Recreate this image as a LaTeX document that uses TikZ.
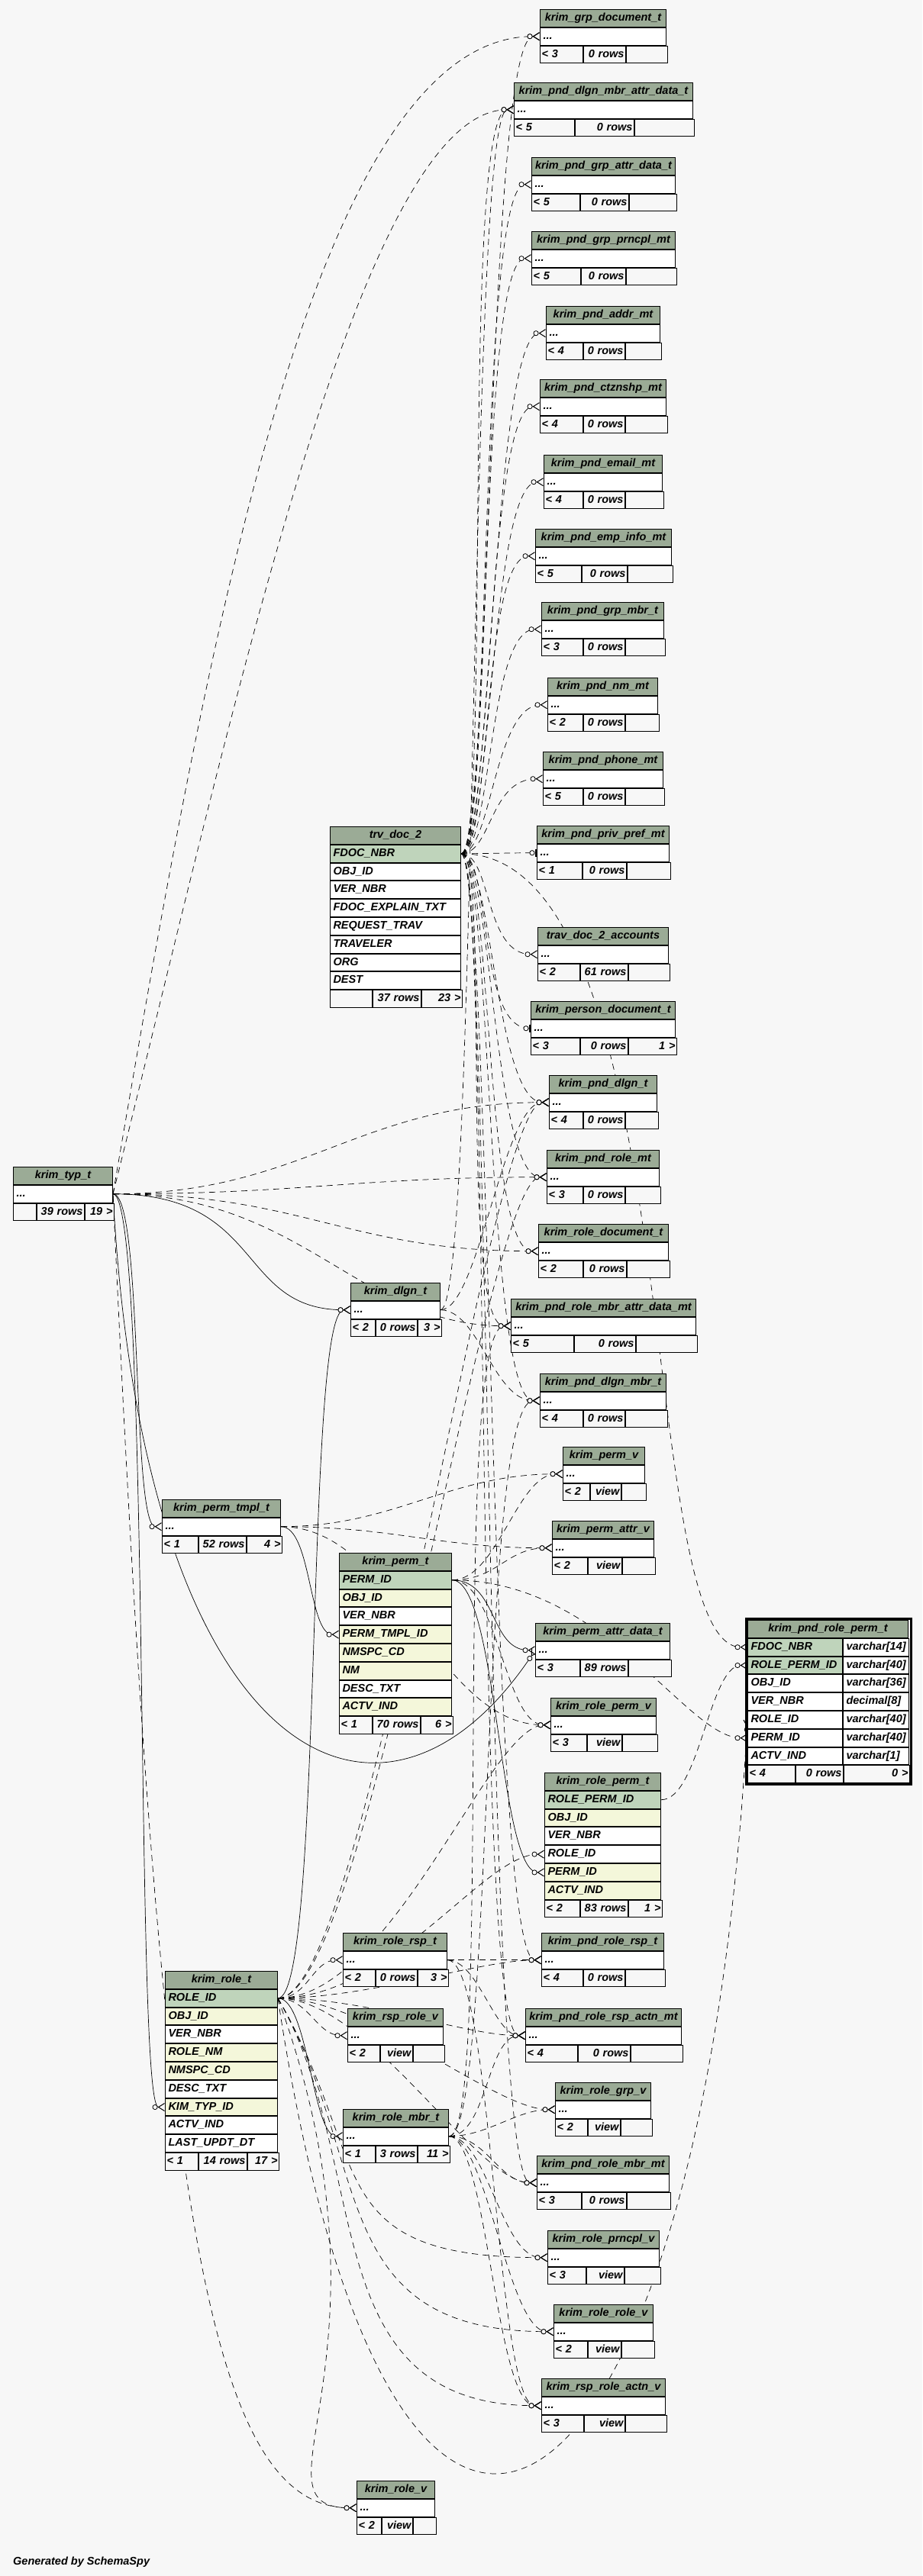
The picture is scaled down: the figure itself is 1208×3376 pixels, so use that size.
\documentclass[tikz,border=0pt]{standalone}
\usepackage{fontspec}
\setmainfont{Liberation Sans}
\usepackage{tikz}
\usetikzlibrary{arrows.meta,positioning,fit,backgrounds}
\definecolor{paper}{HTML}{F7F7F7}
\definecolor{head}{HTML}{9BAB96}
\definecolor{keyrow}{HTML}{BFD4BB}
\definecolor{idxrow}{HTML}{F4F7DA}
\newcommand{\tabfont}{\fontsize{14.5}{17}\selectfont\bfseries\itshape}
\tikzset{cellbase/.style={draw,line width=1pt,font=\tabfont,inner xsep=4pt,
    inner ysep=4.5pt,text height=10.5pt,text depth=3.3pt},
  hdr/.style={cellbase,fill=head,align=center},
  fld/.style={cellbase,fill=white,align=left},
  ftl/.style={cellbase,fill=paper,align=left,inner xsep=2pt},
  ftr/.style={cellbase,fill=paper,align=right,inner xsep=2pt},
  fk/.style={line width=0.7pt,draw=black},
  ifk/.style={fk,dash pattern=on 8pt off 6pt},
  many/.style={-{Circle[fill=white,length=7pt,line width=0.8pt]
    Straight Barb[reversed,length=8pt,width=10pt,line width=1pt]}},
  one/.style={-{Circle[fill=white,length=7pt,line width=0.8pt]
    Bar[width=10pt,line width=2.5pt]}}}
% table header, field row, footer
\newcommand{\khead}[5]{\pgfmathsetmacro{\kw}{#3-#2-8}%
  \node[hdr,text width=\kw pt,anchor=north west] (#1) at (#2,-#4) {#5};}
\newcommand{\kfld}[4]{%
  \node[fld,fill=#3,text width=\kw pt,anchor=north west] (#1) at (#2.south west) {#4};}
\newcommand{\kfoot}[9]{\pgfmathsetmacro{\kwa}{#4-#3-4}%
  \pgfmathsetmacro{\kwb}{#5-#4-4}\pgfmathsetmacro{\kwc}{#6-#5-4}%
  \node[ftl,text width=\kwa pt,anchor=north west] (#1-fa) at (#2.south west) {#7};
  \node[ftr,text width=\kwb pt,right=0pt of #1-fa] (#1-fb) {#8};
  \node[ftr,text width=\kwc pt,right=0pt of #1-fb] (#1-fc) {#9};}
% collapsed table: id, left, right, top, split 1, split 2, title, parents, rows
\newcommand{\ktable}[9]{\khead{#1}{#2}{#3}{#4}{#7}%
  \kfld{#1-r}{#1}{white}{...}%
  \kfoot{#1}{#1-r}{#2}{#5}{#6}{#3}{#8}{#9}{}}
% relationship: style, parent row, child row, pull out, pull in
\newcommand{\rel}[5]{\draw[#1] (#2.east) .. controls ([xshift=#4pt]#2.east)
  and ([xshift=-#5pt]#3.west) .. (#3.west);}

\begin{document}
\begin{tikzpicture}[x=1pt,y=1pt]
\useasboundingbox (0,0) rectangle (1208,-3376);
\begin{scope}[on background layer]
\fill[paper] (0,0) rectangle (1208,-3376);
\end{scope}
% right column, top
\ktable{grpdoc}{707}{872}{12}{763}{818}{krim\_grp\_document\_t}{< 3}{0~rows}
\ktable{dlgnmbrattr}{673}{907}{108}{752}{829}{krim\_pnd\_dlgn\_mbr\_attr\_data\_t}{< 5}{0~rows}
\ktable{grpattr}{696}{884}{206}{759}{822}{krim\_pnd\_grp\_attr\_data\_t}{< 5}{0~rows}
\ktable{grpprncpl}{696}{884}{303}{760}{818}{krim\_pnd\_grp\_prncpl\_mt}{< 5}{0~rows}
\ktable{addr}{715}{864}{401}{763}{817}{krim\_pnd\_addr\_mt}{< 4}{0~rows}
\ktable{ctznshp}{707}{872}{497}{763}{817}{krim\_pnd\_ctznshp\_mt}{< 4}{0~rows}
\ktable{email}{712}{867}{596}{763}{817}{krim\_pnd\_email\_mt}{< 4}{0~rows}
\ktable{empinfo}{701}{879}{693}{761}{820}{krim\_pnd\_emp\_info\_mt}{< 5}{0~rows}
\ktable{grpmbr}{709}{869}{789}{763}{817}{krim\_pnd\_grp\_mbr\_t}{< 3}{0~rows}
\ktable{nm}{717}{861}{888}{763}{817}{krim\_pnd\_nm\_mt}{< 2}{0~rows}
\ktable{phone}{711}{868}{985}{763}{817}{krim\_pnd\_phone\_mt}{< 5}{0~rows}
\ktable{privpref}{703}{876}{1082}{762}{819}{krim\_pnd\_priv\_pref\_mt}{< 1}{0~rows}
\ktable{travacct}{704}{875}{1215}{759}{821}{trav\_doc\_2\_accounts}{< 2}{61~rows}
\khead{persondoc}{695}{884}{1312}{krim\_person\_document\_t}
\kfld{persondoc-r}{persondoc}{white}{...}
\kfoot{persondoc}{persondoc-r}{695}{759}{821}{884}{< 3}{0~rows}{1 >}
\ktable{pnddlgn}{719}{860}{1409}{763}{817}{krim\_pnd\_dlgn\_t}{< 4}{0~rows}
\ktable{pndrolemt}{716}{863}{1507}{763}{817}{krim\_pnd\_role\_mt}{< 3}{0~rows}
\ktable{roledoc}{705}{875}{1604}{763}{819}{krim\_role\_document\_t}{< 2}{0~rows}
\ktable{pndrolembrattr}{669}{911}{1702}{751}{831}{krim\_pnd\_role\_mbr\_attr\_data\_mt}{< 5}{0~rows}
\ktable{pnddlgnmbr}{707}{872}{1800}{763}{817}{krim\_pnd\_dlgn\_mbr\_t}{< 4}{0~rows}
% trv_doc_2
\khead{trv}{432}{603}{1083}{trv\_doc\_2}
\kfld{trv-fdoc}{trv}{keyrow}{FDOC\_NBR}
\kfld{trv-obj}{trv-fdoc}{white}{OBJ\_ID}
\kfld{trv-ver}{trv-obj}{white}{VER\_NBR}
\kfld{trv-expl}{trv-ver}{white}{FDOC\_EXPLAIN\_TXT}
\kfld{trv-req}{trv-expl}{white}{REQUEST\_TRAV}
\kfld{trv-trav}{trv-req}{white}{TRAVELER}
\kfld{trv-org}{trv-trav}{white}{ORG}
\kfld{trv-dest}{trv-org}{white}{DEST}
\kfoot{trv}{trv-dest}{432}{487}{550}{603}{}{37~rows}{23 >}
% left side
\khead{typ}{17}{147}{1529}{krim\_typ\_t}
\kfld{typ-r}{typ}{white}{...}
\kfoot{typ}{typ-r}{17}{47}{109}{147}{}{39~rows}{19 >}
\khead{dlgn}{459}{576}{1681}{krim\_dlgn\_t}
\kfld{dlgn-r}{dlgn}{white}{...}
\kfoot{dlgn}{dlgn-r}{459}{491}{545}{576}{< 2}{0~rows}{3 >}
\khead{permtmpl}{212}{367}{1965}{krim\_perm\_tmpl\_t}
\kfld{permtmpl-r}{permtmpl}{white}{...}
\kfoot{permtmpl}{permtmpl-r}{212}{259}{321}{367}{< 1}{52~rows}{4 >}
% permissions
\ktable{permv}{737}{844}{1896}{772}{812}{krim\_perm\_v}{< 2}{view}
\ktable{permattrv}{723}{856}{1993}{769}{813}{krim\_perm\_attr\_v}{< 2}{view}
\ktable{permattrdata}{701}{877}{2127}{759}{821}{krim\_perm\_attr\_data\_t}{< 3}{89~rows}
\ktable{rolepermv}{721}{859}{2225}{768}{813}{krim\_role\_perm\_v}{< 3}{view}
\khead{perm}{444}{591}{2035}{krim\_perm\_t}
\kfld{perm-id}{perm}{keyrow}{PERM\_ID}
\kfld{perm-obj}{perm-id}{idxrow}{OBJ\_ID}
\kfld{perm-ver}{perm-obj}{white}{VER\_NBR}
\kfld{perm-tmpl}{perm-ver}{idxrow}{PERM\_TMPL\_ID}
\kfld{perm-nmspc}{perm-tmpl}{idxrow}{NMSPC\_CD}
\kfld{perm-nm}{perm-nmspc}{idxrow}{NM}
\kfld{perm-desc}{perm-nm}{white}{DESC\_TXT}
\kfld{perm-actv}{perm-desc}{idxrow}{ACTV\_IND}
\kfoot{perm}{perm-actv}{444}{487}{549}{591}{< 1}{70~rows}{6 >}
\khead{roleperm}{713}{865}{2323}{krim\_role\_perm\_t}
\kfld{roleperm-id}{roleperm}{keyrow}{ROLE\_PERM\_ID}
\kfld{roleperm-obj}{roleperm-id}{idxrow}{OBJ\_ID}
\kfld{roleperm-ver}{roleperm-obj}{white}{VER\_NBR}
\kfld{roleperm-role}{roleperm-ver}{white}{ROLE\_ID}
\kfld{roleperm-perm}{roleperm-role}{idxrow}{PERM\_ID}
\kfld{roleperm-actv}{roleperm-perm}{idxrow}{ACTV\_IND}
\kfoot{roleperm}{roleperm-actv}{713}{759}{821}{865}{< 2}{83~rows}{1 >}
% pending role permission, the focus table
\khead{prp}{979}{1189}{2123}{krim\_pnd\_role\_perm\_t}
\pgfmathsetmacro{\kw}{1103-979-8}
\kfld{prp-fdoc}{prp}{keyrow}{FDOC\_NBR}
\kfld{prp-rpid}{prp-fdoc}{keyrow}{ROLE\_PERM\_ID}
\kfld{prp-obj}{prp-rpid}{white}{OBJ\_ID}
\kfld{prp-ver}{prp-obj}{white}{VER\_NBR}
\kfld{prp-role}{prp-ver}{white}{ROLE\_ID}
\kfld{prp-perm}{prp-role}{white}{PERM\_ID}
\kfld{prp-actv}{prp-perm}{white}{ACTV\_IND}
\node[fld,text width=78pt,right=0pt of prp-fdoc] (prp-fdoc-t) {varchar[14]};
\node[fld,text width=78pt,right=0pt of prp-rpid] (prp-rpid-t) {varchar[40]};
\node[fld,text width=78pt,right=0pt of prp-obj] (prp-obj-t) {varchar[36]};
\node[fld,text width=78pt,right=0pt of prp-ver] (prp-ver-t) {decimal[8]};
\node[fld,text width=78pt,right=0pt of prp-role] (prp-role-t) {varchar[40]};
\node[fld,text width=78pt,right=0pt of prp-perm] (prp-perm-t) {varchar[40]};
\node[fld,text width=78pt,right=0pt of prp-actv] (prp-actv-t) {varchar[1]};
\kfoot{prp}{prp-actv}{979}{1041}{1103}{1189}{< 4}{0~rows}{0 >}
\node[draw,line width=2.5pt,inner sep=1.5pt,fit=(prp)(prp-fc)] (prp-frame) {};
% roles
\khead{role}{216}{363}{2583}{krim\_role\_t}
\kfld{role-id}{role}{keyrow}{ROLE\_ID}
\kfld{role-obj}{role-id}{idxrow}{OBJ\_ID}
\kfld{role-ver}{role-obj}{white}{VER\_NBR}
\kfld{role-nm}{role-ver}{idxrow}{ROLE\_NM}
\kfld{role-nmspc}{role-nm}{idxrow}{NMSPC\_CD}
\kfld{role-desc}{role-nmspc}{white}{DESC\_TXT}
\kfld{role-typ}{role-desc}{idxrow}{KIM\_TYP\_ID}
\kfld{role-actv}{role-typ}{white}{ACTV\_IND}
\kfld{role-updt}{role-actv}{white}{LAST\_UPDT\_DT}
\kfoot{role}{role-updt}{216}{259}{322}{363}{< 1}{14~rows}{17 >}
\khead{rolersp}{449}{585}{2533}{krim\_role\_rsp\_t}
\kfld{rolersp-r}{rolersp}{white}{...}
\kfoot{rolersp}{rolersp-r}{449}{491}{545}{585}{< 2}{0~rows}{3 >}
\ktable{rsprolev}{455}{580}{2632}{497}{539}{krim\_rsp\_role\_v}{< 2}{view}
\khead{rolembr}{449}{587}{2764}{krim\_role\_mbr\_t}
\kfld{rolembr-r}{rolembr}{white}{...}
\kfoot{rolembr}{rolembr-r}{449}{491}{545}{587}{< 1}{3~rows}{11 >}
\ktable{pndrolersp}{709}{869}{2533}{763}{817}{krim\_pnd\_role\_rsp\_t}{< 4}{0~rows}
\ktable{pndrolerspactn}{688}{892}{2632}{756}{824}{krim\_pnd\_role\_rsp\_actn\_mt}{< 4}{0~rows}
\ktable{rolegrpv}{727}{852}{2729}{769}{811}{krim\_role\_grp\_v}{< 2}{view}
\ktable{pndrolembrmt}{703}{876}{2825}{761}{819}{krim\_pnd\_role\_mbr\_mt}{< 3}{0~rows}
\ktable{roleprncplv}{717}{863}{2923}{767}{816}{krim\_role\_prncpl\_v}{< 3}{view}
\ktable{rolerolev}{725}{855}{3020}{769}{812}{krim\_role\_role\_v}{< 2}{view}
\ktable{rsproleactnv}{709}{871}{3117}{764}{817}{krim\_rsp\_role\_actn\_v}{< 3}{view}
\ktable{rolev}{467}{569}{3251}{499}{539}{krim\_role\_v}{< 2}{view}
\node[font=\tabfont,anchor=base west,inner sep=0pt] (gen) at (17,-3361) {Generated by SchemaSpy};
% relationships
\begin{scope}[on background layer]
% from trv_doc_2
\rel{ifk,many}{trv-fdoc}{grpdoc-r}{40}{70}
\rel{ifk,many}{trv-fdoc}{dlgnmbrattr-r}{40}{70}
\rel{ifk,many}{trv-fdoc}{grpattr-r}{40}{70}
\rel{ifk,many}{trv-fdoc}{grpprncpl-r}{40}{70}
\rel{ifk,many}{trv-fdoc}{addr-r}{40}{70}
\rel{ifk,many}{trv-fdoc}{ctznshp-r}{40}{70}
\rel{ifk,many}{trv-fdoc}{email-r}{40}{70}
\rel{ifk,many}{trv-fdoc}{empinfo-r}{40}{70}
\rel{ifk,many}{trv-fdoc}{grpmbr-r}{40}{70}
\rel{ifk,many}{trv-fdoc}{nm-r}{40}{70}
\rel{ifk,many}{trv-fdoc}{phone-r}{40}{70}
\rel{ifk,one}{trv-fdoc}{privpref-r}{30}{30}
\rel{ifk,many}{trv-fdoc}{travacct-r}{40}{70}
\rel{ifk,one}{trv-fdoc}{persondoc-r}{40}{70}
\rel{ifk,many}{trv-fdoc}{pnddlgn-r}{40}{70}
\rel{ifk,many}{trv-fdoc}{pndrolemt-r}{40}{70}
\rel{ifk,many}{trv-fdoc}{roledoc-r}{40}{70}
\rel{ifk,many}{trv-fdoc}{pndrolembrattr-r}{40}{70}
\rel{ifk,many}{trv-fdoc}{pnddlgnmbr-r}{40}{70}
\rel{ifk,many}{trv-fdoc}{prp-fdoc}{300}{150}
\rel{ifk,many}{trv-fdoc}{pndrolersp-r}{40}{70}
\rel{ifk,many}{trv-fdoc}{pndrolerspactn-r}{40}{70}
\rel{ifk,many}{trv-fdoc}{pndrolembrmt-r}{40}{70}
% from krim_typ_t
\draw[ifk,many] (typ-r.east) .. controls ([shift={(120,700)}]typ-r.east)
  and ([xshift=-300pt]grpdoc-r.west) .. (grpdoc-r.west);
\draw[ifk,many] (typ-r.east) .. controls ([shift={(160,640)}]typ-r.east)
  and ([xshift=-200pt]dlgnmbrattr-r.west) .. (dlgnmbrattr-r.west);
\rel{ifk,many}{typ-r}{pnddlgn-r}{250}{250}
\rel{ifk,many}{typ-r}{pndrolemt-r}{250}{250}
\rel{ifk,many}{typ-r}{roledoc-r}{250}{250}
\rel{ifk,many}{typ-r}{pndrolembrattr-r}{250}{200}
\rel{fk,many}{typ-r}{dlgn-r}{200}{150}
\rel{fk,many}{typ-r}{permtmpl-r}{40}{40}
\rel{fk,many}{typ-r}{role-typ}{50}{40}
\draw[fk,many] (typ-r.east) .. controls ([shift={(40,-750)}]typ-r.east)
  and ([shift={(-200,-300)}]permattrdata-r.west) .. (permattrdata-r.west);
\draw[ifk,many] (typ-r.east) .. controls ([shift={(60,-1300)}]typ-r.east)
  and ([xshift=-200pt]rolev-r.west) .. (rolev-r.west);
% from krim_perm_tmpl_t
\rel{fk,many}{permtmpl-r}{perm-tmpl}{40}{40}
\rel{ifk,many}{permtmpl-r}{permv-r}{150}{150}
\rel{ifk,many}{permtmpl-r}{permattrv-r}{150}{150}
\rel{ifk,many}{permtmpl-r}{rolepermv-r}{150}{150}
% from krim_perm_t
\rel{ifk,many}{perm-id}{permv-r}{60}{60}
\rel{ifk,many}{perm-id}{permattrv-r}{60}{60}
\rel{fk,many}{perm-id}{permattrdata-r}{60}{60}
\rel{ifk,many}{perm-id}{rolepermv-r}{60}{60}
\rel{fk,many}{perm-id}{roleperm-perm}{60}{60}
\rel{ifk,many}{perm-id}{prp-perm}{200}{80}
% from krim_role_perm_t
\rel{ifk,many}{roleperm-id}{prp-rpid}{50}{50}
% from krim_role_t
\rel{fk,many}{role-id}{dlgn-r}{60}{60}
\rel{ifk,many}{role-id}{roleperm-role}{150}{80}
\rel{ifk,many}{role-id}{rolepermv-r}{150}{80}
\rel{ifk,many}{role-id}{rolersp-r}{40}{40}
\rel{ifk,many}{role-id}{rsprolev-r}{40}{40}
\rel{fk,many}{role-id}{rolembr-r}{40}{40}
\rel{ifk,many}{role-id}{pndrolersp-r}{120}{80}
\rel{ifk,many}{role-id}{pndrolerspactn-r}{120}{80}
\rel{ifk,many}{role-id}{rolegrpv-r}{120}{80}
\rel{ifk,many}{role-id}{pndrolembrmt-r}{120}{80}
\rel{ifk,many}{role-id}{pndrolemt-r}{120}{80}
\rel{ifk,many}{role-id}{pnddlgn-r}{120}{80}
\draw[ifk,many] (role-id.east) .. controls ([shift={(125,-216)}]role-id.east)
  and ([xshift=-300pt]roleprncplv-r.west) .. (roleprncplv-r.west);
\draw[ifk,many] (role-id.east) .. controls ([shift={(125,-216)}]role-id.east)
  and ([xshift=-300pt]rolerolev-r.west) .. (rolerolev-r.west);
\draw[ifk,many] (role-id.east) .. controls ([shift={(125,-216)}]role-id.east)
  and ([xshift=-300pt]rsproleactnv-r.west) .. (rsproleactnv-r.west);
\draw[ifk,many] (role-id.east) .. controls ([shift={(171,-470)}]role-id.east)
  and ([xshift=-150pt]rolev-r.west) .. (rolev-r.west);
\draw[ifk,many] (role-id.east) .. controls ([shift={(150,-1000)}]role-id.east)
  and ([shift={(-60,-1100)}]prp-role.west) .. (prp-role.west);
% from krim_role_mbr_t
\rel{ifk,many}{rolembr-r}{pnddlgnmbr-r}{60}{80}
\rel{ifk,many}{rolembr-r}{pndrolembrattr-r}{60}{80}
\rel{ifk,many}{rolembr-r}{pndrolerspactn-r}{50}{50}
\rel{ifk,many}{rolembr-r}{rolegrpv-r}{50}{50}
\rel{ifk,many}{rolembr-r}{pndrolembrmt-r}{50}{50}
\rel{ifk,many}{rolembr-r}{roleprncplv-r}{50}{60}
\rel{ifk,many}{rolembr-r}{rolerolev-r}{50}{60}
\rel{ifk,many}{rolembr-r}{rsproleactnv-r}{50}{60}
% from krim_role_rsp_t
\rel{ifk,many}{rolersp-r}{pndrolersp-r}{40}{40}
\rel{ifk,many}{rolersp-r}{pndrolerspactn-r}{40}{40}
\rel{ifk,many}{rolersp-r}{rsproleactnv-r}{60}{60}
% from krim_dlgn_t
\rel{ifk,many}{dlgn-r}{pnddlgn-r}{50}{60}
\rel{ifk,many}{dlgn-r}{pnddlgnmbr-r}{50}{60}
\rel{ifk,many}{dlgn-r}{dlgnmbrattr-r}{50}{60}
\end{scope}
\end{tikzpicture}
\end{document}
